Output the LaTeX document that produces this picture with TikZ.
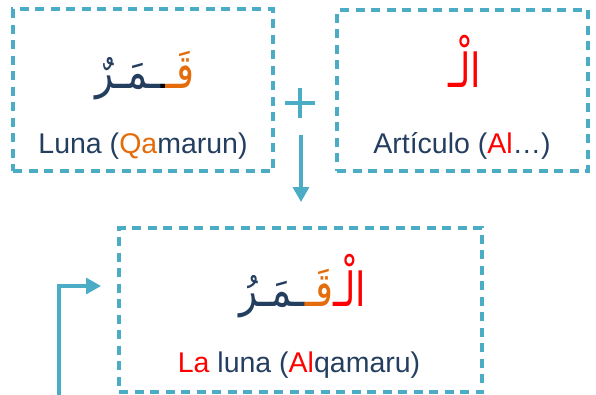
\documentclass[tikz,border=0pt]{standalone}
\usepackage{fontspec}
\usepackage{graphicx}
\setmainfont{Liberation Sans}
\newfontfamily\arabicfont[Script=Arabic]{DejaVu Sans}
\TeXXeTstate=1
\usetikzlibrary{arrows.meta}
\definecolor{dk}{RGB}{36,62,96}
\definecolor{orng}{RGB}{228,108,10}
\definecolor{tl}{RGB}{75,172,198}
\definecolor{rd}{RGB}{255,0,0}
\newcommand{\arx}[2][0.8]{\scalebox{#1}[1]{\beginR #2\endR}}
\tikzset{
  dbox/.style={draw=tl, line width=3.2pt, dash pattern=on 9pt off 6.5pt, inner sep=0pt},
  lbl/.style={anchor=base, inner sep=0pt, font=\fontsize{28.5}{30}\selectfont, text=dk},
  ar/.style={inner sep=0pt, outer sep=0pt, font=\arabicfont\fontsize{47}{50}\selectfont},
  conn/.style={draw=tl, line width=3.2pt, -{Triangle[width=16pt,length=15pt]}},
}
\begin{document}
\begin{tikzpicture}[x=1pt,y=-1pt]
\useasboundingbox (0,0) rectangle (596,394);
% boxes
\node[dbox, minimum width=260pt, minimum height=162pt] (b1) at (143,90) {};
\node[dbox, minimum width=251pt, minimum height=161pt] (b2) at (462.5,90.5) {};
\node[dbox, minimum width=363pt, minimum height=164pt] (b3) at (300.5,310) {};
% box 1 arabic
\node[ar, anchor=base east, text=orng] (q1) at (194,88) {\arx{قَـ}};
\node[ar, anchor=base east, text=black] (q1k) at (q1.base west) {\arx[0.35]{ـ}};
\node[ar, anchor=base east, text=dk] (q1m) at (q1k.base west) {\arx{ـمَـرٌ}};
% box 2 arabic
\node[ar, anchor=base east, text=rd] (al2) at (481,87) {\arx{الْـ}};
% box 3 arabic
\node[ar, anchor=base east, text=rd] (al3) at (366,306) {\arx{الْـ}};
\node[ar, anchor=base east, text=orng] (q3) at (al3.base west) {\arx{قَـ}};
\node[ar, anchor=base east, text=dk] (m3) at (q3.base west) {\arx{ـمَـرُ}};
% labels
\node[lbl] (t1) at (143,153) {Luna (\textcolor{orng}{Qa}marun)};
\node[lbl] (t2) at (462,153) {Artículo (\textcolor{rd}{Al}…)};
\node[lbl] (t3) at (299,372) {\textcolor{rd}{La} luna (\textcolor{rd}{Al}qamaru)};
% plus
\draw[tl, line width=4pt] (285,103) -- (315,103) (300,88) -- (300,118);
% arrows
\coordinate (d0) at (301,135);
\coordinate (d1) at (301,202);
\draw[conn] (d0) -- (d1);
\coordinate (c0) at (59,396);
\coordinate (c1) at (101,286);
\draw[conn] (c0) |- (c1);
\end{tikzpicture}
\end{document}
